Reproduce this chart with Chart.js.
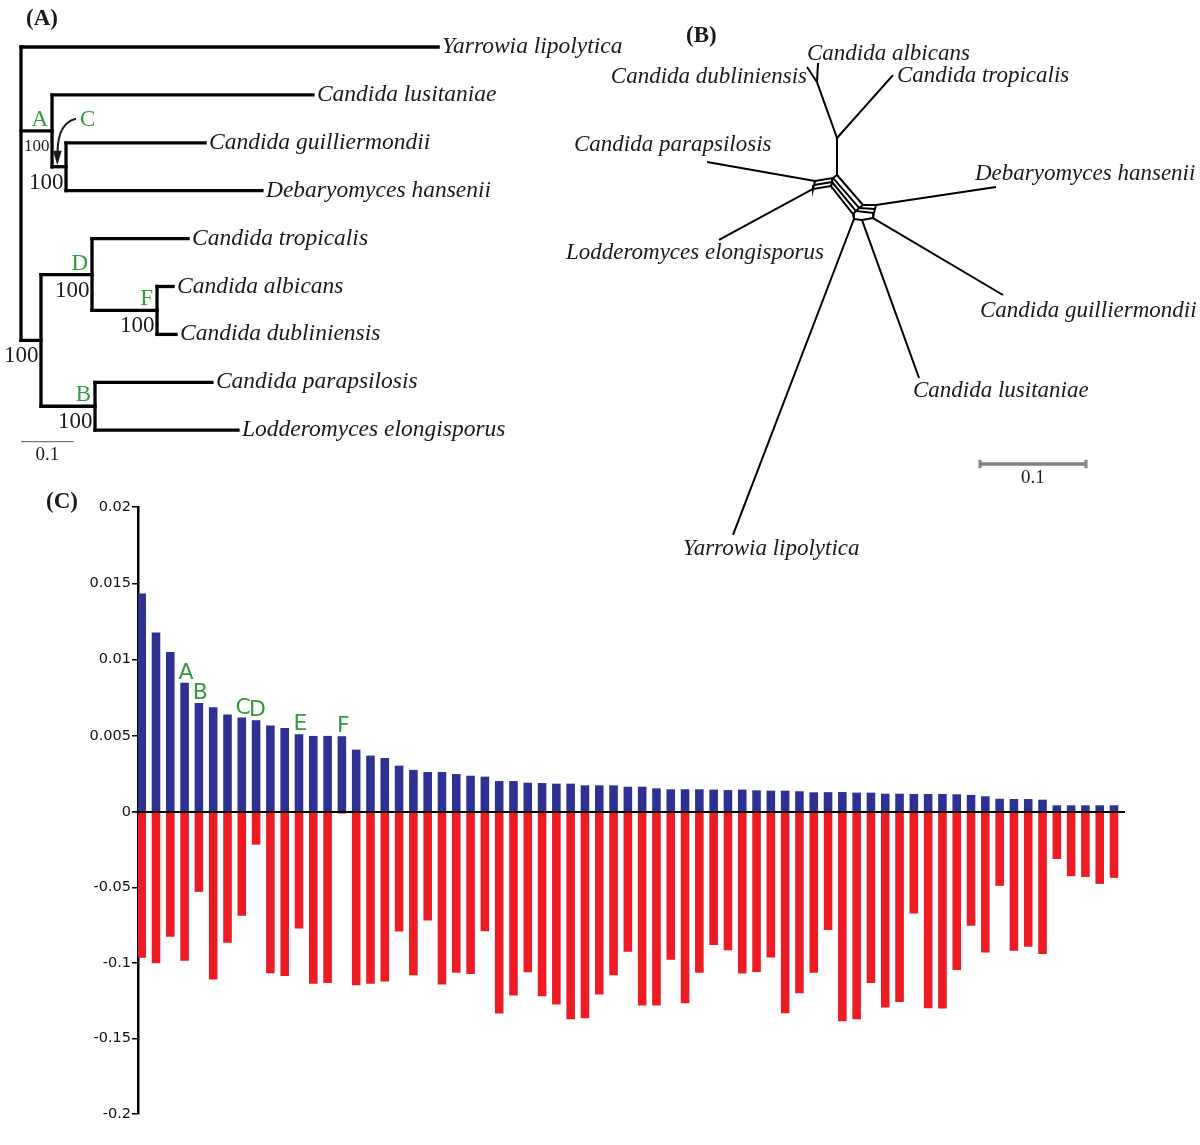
<!DOCTYPE html>
<html>
<head>
<meta charset="utf-8">
<script src="https://cdn.jsdelivr.net/npm/chart.js@4.4.1/dist/chart.umd.min.js"></script>
<style>
  html, body { margin: 0; padding: 0; background: #fff; }
  #page { position: relative; width: 1200px; height: 1145px; overflow: hidden; background: #fff; }
  canvas { position: absolute; }
  #barsC { left: 0; top: 490px; }
  #treeA { left: 0; top: 0; }
  #netB { left: 540px; top: 0; }
  .panel { position: absolute; font: bold 23px "Liberation Serif", serif; line-height: 1; color: #1a1a1a; }
</style>
</head>
<body>
<div id="page">
  <canvas id="barsC" width="1200" height="655"></canvas>
  <canvas id="treeA" width="640" height="470"></canvas>
  <canvas id="netB" width="660" height="570"></canvas>
  <div class="panel" style="left:26px;top:6px">(A)</div>
  <div class="panel" style="left:686px;top:23px">(B)</div>
  <div class="panel" style="left:46px;top:489px">(C)</div>
</div>
<script>
// ===== DATA (C) : per-site values, sorted by gain
const gainValues = [0.01433, 0.01177, 0.0105, 0.00847, 0.00715, 0.00687, 0.00639, 0.00619, 0.00601, 0.00567,
  0.00551, 0.0051, 0.00499, 0.00499, 0.00497, 0.00409, 0.0037, 0.00354, 0.00304, 0.00276,
  0.00262, 0.00262, 0.00249, 0.00238, 0.00232, 0.00203, 0.00203, 0.00192, 0.0019, 0.00186,
  0.00186, 0.00175, 0.00175, 0.00175, 0.00166, 0.00166, 0.00155, 0.00149, 0.00149, 0.00149,
  0.00147, 0.00144, 0.00147, 0.00142, 0.0014, 0.0014, 0.00136, 0.00129, 0.0013, 0.00131,
  0.00127, 0.00127, 0.0012, 0.0012, 0.00118, 0.00118, 0.00118, 0.00116, 0.00112, 0.00103,
  0.00087, 0.00085, 0.00085, 0.00081, 0.00044, 0.00044, 0.00044, 0.00044, 0.00044];
const lossValues = [-0.0965, -0.1002, -0.0826, -0.0985, -0.0529, -0.111, -0.0866, -0.0687, -0.0216, -0.1068,
  -0.1086, -0.0771, -0.1137, -0.1132, -0.001, -0.1148, -0.1137, -0.1123, -0.0791, -0.1081,
  -0.0718, -0.1143, -0.1064, -0.1073, -0.079, -0.1335, -0.1216, -0.1062, -0.122, -0.1275,
  -0.1372, -0.1366, -0.1209, -0.1081, -0.0925, -0.1282, -0.1282, -0.0978, -0.1267, -0.1064,
  -0.0881, -0.0916, -0.107, -0.1059, -0.0963, -0.1333, -0.12, -0.1064, -0.0782, -0.1385,
  -0.1372, -0.1132, -0.1295, -0.1258, -0.0672, -0.13, -0.1302, -0.1046, -0.0753, -0.093,
  -0.0489, -0.0919, -0.0892, -0.094, -0.0311, -0.0425, -0.043, -0.0476, -0.0436];
const tagIndex = [3, 4, 7, 8, 11, 14];
const tagLetters = ['A', 'B', 'C', 'D', 'E', 'F'];
const gainTicks = [0, 0.005, 0.01, 0.015, 0.02];
const lossTicks = [-0.2, -0.15, -0.1, -0.05, 0];

// ===== DATA (A) : rooted tree, branch depths in substitutions/site
const leafNames = ['Yarrowia lipolytica', 'Candida lusitaniae', 'Candida guilliermondii', 'Debaryomyces hansenii',
  'Candida tropicalis', 'Candida albicans', 'Candida dubliniensis', 'Candida parapsilosis', 'Lodderomyces elongisporus'];
const leafDepth = [0.793, 0.555, 0.350, 0.458, 0.3175, 0.289, 0.2947, 0.363, 0.4125];
const nodeNames = ['root', 'A', 'C', 'L', 'D', 'F', 'B'];
const nodeDepth = [0, 0.059, 0.0856, 0.038, 0.135, 0.2586, 0.1407];
const nodeKids = [
  ['Yarrowia lipolytica', 'A', 'L'],
  ['Candida lusitaniae', 'C'],
  ['Candida guilliermondii', 'Debaryomyces hansenii'],
  ['D', 'B'],
  ['Candida tropicalis', 'F'],
  ['Candida albicans', 'Candida dubliniensis'],
  ['Candida parapsilosis', 'Lodderomyces elongisporus']
];
const nodeSupport = ['', '100', '100', '100', '100', '100', '100'];
const nodeTag = ['', 'A', 'C', '', 'D', 'F', 'B'];
const treeScaleLen = 0.1;

// ===== DATA (B) : split network, node coordinates in substitutions/site
const netNodes = [
  [0, 0], [0, -0.0349], [-0.0189, -0.0877], [-0.0179, -0.1057], [-0.0283, -0.1019], [0.0528, -0.0943],
  [-0.0208, 0.0057], [-0.0226, 0.0132], [-0.0038, 0.0028], [-0.0057, 0.0104],
  [-0.1226, -0.0123], [-0.1113, 0.0613], [-0.0217, 0.0094], [-0.0047, 0.0066],
  [0.0245, 0.0283], [0.0208, 0.0311], [0.0179, 0.0340], [0.0151, 0.0368],
  [0.0368, 0.0283], [0.0358, 0.0321], [0.0349, 0.0358], [0.0340, 0.0406],
  [0.0236, 0.0425], [0.0160, 0.0415],
  [0.15, 0.0113], [0.1566, 0.1132], [0.0774, 0.1915], [-0.0981, 0.3396]
];
const netEdges = [
  [1, 0], [2, 1], [3, 2], [4, 2], [5, 1],
  [10, 6], [11, 7], [6, 12], [12, 7], [8, 13], [13, 9], [6, 8], [12, 13], [7, 9], [0, 8],
  [0, 14], [8, 15], [13, 16], [9, 17],
  [14, 15], [15, 16], [16, 17], [18, 19], [19, 20], [20, 21],
  [14, 18], [15, 19], [16, 20], [17, 23], [23, 22], [22, 21],
  [18, 24], [21, 25], [22, 26], [23, 27]
];
const netLabels = ['Candida albicans', 'Candida dubliniensis', 'Candida tropicalis', 'Candida parapsilosis',
  'Debaryomyces hansenii', 'Lodderomyces elongisporus', 'Candida guilliermondii', 'Candida lusitaniae', 'Yarrowia lipolytica'];
const netScaleLen = 0.1;

// ===== STYLE / LAYOUT
const GREEN = '#339a3f';
const INK = '#1a1a1a';
const netLabelPos = [
  [-0.0283, -0.1085, 'left'], [-0.0283, -0.0868, 'right'], [0.0566, -0.0877, 'left'], [-0.2481, -0.0226, 'left'],
  [0.1302, 0.0047, 'left'], [-0.2557, 0.0792, 'left'], [0.1349, 0.134, 'left'], [0.0717, 0.2094, 'left'], [-0.1453, 0.3585, 'left']
];
const netScaleAt = [0.1349, 0.2726];
const treeScaleRow = 8.24;

// ====== PANEL C
const zeroLine = {
  id: 'zeroLine',
  afterDatasetsDraw(chart) {
    const { ctx, chartArea } = chart;
    const y = chart.scales.yTop.getPixelForValue(0);
    ctx.save();
    ctx.strokeStyle = '#000';
    ctx.lineWidth = 2;
    ctx.beginPath();
    ctx.moveTo(chartArea.left, y);
    ctx.lineTo(chartArea.right, y);
    ctx.stroke();
    ctx.restore();
  }
};
const cladeTags = {
  id: 'cladeTags',
  afterDatasetsDraw(chart) {
    const { ctx } = chart;
    const meta = chart.getDatasetMeta(0);
    ctx.save();
    ctx.font = '22px "DejaVu Sans"';
    ctx.fillStyle = GREEN;
    ctx.textAlign = 'center';
    ctx.textBaseline = 'alphabetic';
    tagIndex.forEach((idx, k) => {
      const bar = meta.data[idx];
      ctx.fillText(tagLetters[k], bar.x + 1.5, bar.y - 4);
    });
    ctx.restore();
  }
};
const fmtTick = v => String(+v.toFixed(4));
const yCommon = {
  type: 'linear', position: 'left', stack: 'c',
  afterFit: s => { s.width = 138; },
  border: { display: true, color: '#000', width: 2.5 },
  grid: { drawOnChartArea: false, drawTicks: true, tickLength: 6, color: '#000', lineWidth: 1.5 },
};
new Chart(document.getElementById('barsC'), {
  type: 'bar',
  data: {
    datasets: [
      { data: gainValues.map((v, i) => ({ x: i, y: v })), yAxisID: 'yTop', backgroundColor: '#2e3192',
        grouped: false, barPercentage: 0.6, categoryPercentage: 1 },
      { data: lossValues.map((v, i) => ({ x: i, y: v })), yAxisID: 'yBot', backgroundColor: '#ed1c24',
        grouped: false, barPercentage: 0.6, categoryPercentage: 1 }
    ]
  },
  options: {
    responsive: false, animation: false, devicePixelRatio: 1, events: [],
    layout: { padding: { top: 17, right: 75, bottom: 31, left: 0 } },
    plugins: { legend: { display: false }, tooltip: { enabled: false } },
    scales: {
      x: { type: 'linear', offset: false, display: false, min: -0.2588, max: 68.768 },
      yBot: Object.assign({}, yCommon, {
        stackWeight: 1, min: -0.2, max: 0,
        afterBuildTicks: s => { s.ticks = lossTicks.map(v => ({ value: v })); },
        ticks: { padding: 1, color: '#111', font: { family: '"DejaVu Sans"', size: 14.5 },
          callback: v => v === 0 ? '' : fmtTick(v) }
      }),
      yTop: Object.assign({}, yCommon, {
        stackWeight: 1.01, min: 0, max: 0.02,
        afterBuildTicks: s => { s.ticks = gainTicks.map(v => ({ value: v })); },
        ticks: { padding: 1, color: '#111', font: { family: '"DejaVu Sans"', size: 14.5 },
          callback: v => fmtTick(v) }
      })
    }
  },
  plugins: [zeroLine, cladeTags]
});

// ====== PANEL A
function treeLayout() {
  const pos = {};
  leafNames.forEach((n, i) => { pos[n] = { x: leafDepth[i], y: i }; });
  const place = name => {
    if (pos[name]) return pos[name];
    const k = nodeNames.indexOf(name);
    const kids = nodeKids[k].map(place);
    pos[name] = { x: nodeDepth[k], y: (kids[0].y + kids[kids.length - 1].y) / 2 };
    return pos[name];
  };
  place('root');
  return pos;
}
const treePos = treeLayout();
const treeSegs = [];
nodeNames.forEach((n, k) => {
  const p = treePos[n];
  const kids = nodeKids[k].map(c => treePos[c]);
  const ys = kids.map(c => c.y);
  treeSegs.push([{ x: p.x, y: Math.min(...ys) }, { x: p.x, y: Math.max(...ys) }]);
  kids.forEach(c => treeSegs.push([{ x: p.x, y: c.y }, { x: c.x, y: c.y }]));
});

const treeText = {
  id: 'treeText',
  afterDatasetsDraw(chart) {
    const { ctx } = chart;
    const sx = chart.scales.x, sy = chart.scales.y;
    const px = p => ({ x: sx.getPixelForValue(p.x), y: sy.getPixelForValue(p.y) });
    ctx.save();
    ctx.textBaseline = 'alphabetic';
    ctx.fillStyle = INK;
    ctx.font = 'italic 23.5px "Liberation Serif"';
    ctx.textAlign = 'left';
    leafNames.forEach(n => { const q = px(treePos[n]); ctx.fillText(n, q.x + 4, q.y + 6); });
    nodeNames.forEach((n, k) => {
      const q = px(treePos[n]);
      if (nodeSupport[k]) {
        const small = n === 'A';
        ctx.font = (small ? '17px' : '23px') + ' "Liberation Serif"';
        ctx.fillStyle = INK;
        ctx.textAlign = 'right';
        ctx.fillText(nodeSupport[k], q.x - 2.5, q.y + (small ? 20 : 22));
      }
      if (nodeTag[k] && n !== 'C') {
        ctx.font = '23px "Liberation Serif"';
        ctx.fillStyle = GREEN;
        ctx.textAlign = 'right';
        ctx.fillText(nodeTag[k], q.x - 4, q.y - 5);
      }
      if (n === 'C') {
        ctx.font = '23px "Liberation Serif"';
        ctx.fillStyle = GREEN;
        ctx.textAlign = 'left';
        ctx.fillText('C', q.x + 14, q.y - 41);
        // arrow pointing to the short branch
        ctx.strokeStyle = INK;
        ctx.lineWidth = 2;
        ctx.beginPath();
        ctx.moveTo(q.x + 10, q.y - 48);
        ctx.quadraticCurveTo(q.x - 8, q.y - 44, q.x - 8.5, q.y - 15);
        ctx.stroke();
        ctx.fillStyle = INK;
        ctx.beginPath();
        ctx.moveTo(q.x - 8.7, q.y - 1.5);
        ctx.lineTo(q.x - 13, q.y - 16);
        ctx.lineTo(q.x - 4.3, q.y - 16);
        ctx.closePath();
        ctx.fill();
      }
    });
    // scale bar text
    const a = px({ x: 0, y: treeScaleRow }), b = px({ x: treeScaleLen, y: treeScaleRow });
    ctx.font = '19px "Liberation Serif"';
    ctx.fillStyle = INK;
    ctx.textAlign = 'center';
    ctx.fillText(String(treeScaleLen), (a.x + b.x) / 2, a.y + 18);
    ctx.restore();
  }
};

const treeDatasets = treeSegs.map(s => ({
  data: s, showLine: true, borderColor: '#000', borderWidth: 3.3, pointRadius: 0,
  borderCapStyle: 'square', clip: false
}));
treeDatasets.push({
  data: [{ x: 0, y: treeScaleRow }, { x: treeScaleLen, y: treeScaleRow }],
  showLine: true, borderColor: '#555', borderWidth: 1, pointRadius: 0, clip: false
});
new Chart(document.getElementById('treeA'), {
  type: 'scatter',
  data: { datasets: treeDatasets },
  options: {
    responsive: false, animation: false, devicePixelRatio: 1, events: [],
    layout: { padding: 0 },
    plugins: { legend: { display: false }, tooltip: { enabled: false } },
    scales: {
      x: { type: 'linear', display: false, min: -21 / 526, max: (640 - 21) / 526 },
      y: { type: 'linear', display: false, reverse: true, min: -47 / 47.9, max: (470 - 47) / 47.9 }
    }
  },
  plugins: [treeText]
});

// ====== PANEL B
const netText = {
  id: 'netText',
  afterDatasetsDraw(chart) {
    const { ctx } = chart;
    const sx = chart.scales.x, sy = chart.scales.y;
    ctx.save();
    ctx.textBaseline = 'alphabetic';
    ctx.fillStyle = INK;
    ctx.font = 'italic 23px "Liberation Serif"';
    netLabels.forEach((t, i) => {
      const [x, y, al] = netLabelPos[i];
      ctx.textAlign = al;
      ctx.fillText(t, sx.getPixelForValue(x), sy.getPixelForValue(y));
    });
    ctx.font = '19px "Liberation Serif"';
    ctx.textAlign = 'center';
    const mx = sx.getPixelForValue(netScaleAt[0] + netScaleLen / 2);
    ctx.fillText(String(netScaleLen), mx, sy.getPixelForValue(netScaleAt[1]) + 19);
    ctx.restore();
  }
};
const netDatasets = netEdges.map(([a, b]) => ({
  data: [{ x: netNodes[a][0], y: netNodes[a][1] }, { x: netNodes[b][0], y: netNodes[b][1] }],
  showLine: true, borderColor: '#000', borderWidth: 2, pointRadius: 0, clip: false
}));
const sbY = netScaleAt[1];
netDatasets.push({
  data: [{ x: netScaleAt[0], y: sbY }, { x: netScaleAt[0] + netScaleLen, y: sbY }],
  showLine: true, borderColor: '#808080', borderWidth: 3.5, pointRadius: 0, clip: false
});
[netScaleAt[0], netScaleAt[0] + netScaleLen].forEach(x => netDatasets.push({
  data: [{ x, y: sbY - 0.004 }, { x, y: sbY + 0.004 }],
  showLine: true, borderColor: '#808080', borderWidth: 3, pointRadius: 0, clip: false
}));
new Chart(document.getElementById('netB'), {
  type: 'scatter',
  data: { datasets: netDatasets },
  options: {
    responsive: false, animation: false, devicePixelRatio: 1, events: [],
    layout: { padding: 0 },
    plugins: { legend: { display: false }, tooltip: { enabled: false } },
    scales: {
      x: { type: 'linear', display: false, min: -297 / 1060, max: (660 - 297) / 1060 },
      y: { type: 'linear', display: false, reverse: true, min: -175 / 1060, max: (570 - 175) / 1060 }
    }
  },
  plugins: [netText]
});
</script>
</body>
</html>
